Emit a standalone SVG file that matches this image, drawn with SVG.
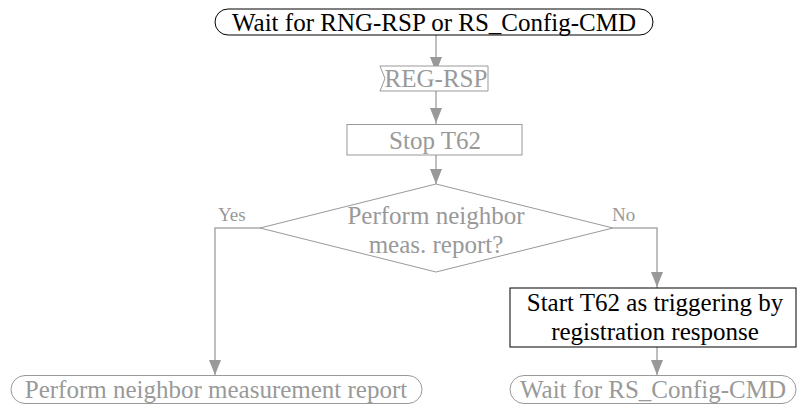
<svg xmlns="http://www.w3.org/2000/svg" width="797" height="405" viewBox="0 0 797 405">
<defs>
<style>
text{font-family:'Liberation Serif','Times New Roman',serif}
.t{font-size:25px;text-anchor:middle}
.blk{fill:#000}
.gry{fill:#999}
.sb{fill:#fff;stroke:#000;stroke-width:1}
.sg{fill:#fff;stroke:#999;stroke-width:1}
.ln{fill:none;stroke:#aaa;stroke-width:1.5}
.ah{fill:#999}
.lbl{font-size:19px;fill:#999}
</style>
</defs>
<rect width="797" height="405" fill="#fff"/>
<g id="connectors">
<path class="ln" d="M436,35 V66"/>
<path class="ln" d="M436,91 V124"/>
<path class="ln" d="M436,155 V184"/>
<path class="ln" d="M260,228 H215 V375"/>
<path class="ln" d="M613,228 H657 V288"/>
<path class="ln" d="M657,347 V375"/>
<path class="ah" d="M430,57 H442 L436,72 Z"/>
<path class="ah" d="M430,108 H442 L436,123 Z"/>
<path class="ah" d="M430,169 H442 L436,184 Z"/>
<path class="ah" d="M209,360 H221 L215,375 Z"/>
<path class="ah" d="M651,272 H663 L657,287 Z"/>
<path class="ah" d="M651,360 H663 L657,375 Z"/>
</g>
<g id="start">
<rect class="sb" x="215" y="9" width="438" height="26" rx="13" ry="13"/>
<text class="t blk" x="434" y="31">Wait for RNG-RSP or RS_Config-CMD</text>
</g>
<g id="reg-rsp">
<polygon class="sg" points="380,66 488,66 488,91 380,91 385,78.5"/>
<text class="t gry" x="436" y="87">REG-RSP</text>
</g>
<g id="stop-t62">
<rect class="sg" x="347" y="124.5" width="175" height="30.5"/>
<text class="t gry" x="435" y="149">Stop T62</text>
</g>
<g id="decision">
<polygon class="sg" points="436,184 613,228 436,272 260,228"/>
<text class="t gry" x="436" y="224">Perform neighbor</text>
<text class="t gry" x="436" y="253">meas. report?</text>
<text class="lbl" x="218" y="221">Yes</text>
<text class="lbl" x="612" y="221">No</text>
</g>
<g id="start-t62">
<rect class="sb" x="510" y="288" width="286" height="59"/>
<text class="t blk" x="655" y="311">Start T62 as triggering by</text>
<text class="t blk" x="655" y="340">registration response</text>
</g>
<g id="perform-report">
<rect class="sg" x="11" y="375.5" width="411" height="28" rx="14" ry="14"/>
<text class="t gry" x="216" y="398">Perform neighbor measurement report</text>
</g>
<g id="wait-rs">
<rect class="sg" x="510" y="375.5" width="286" height="28" rx="14" ry="14"/>
<text class="t gry" x="653" y="398">Wait for RS_Config-CMD</text>
</g>
</svg>
